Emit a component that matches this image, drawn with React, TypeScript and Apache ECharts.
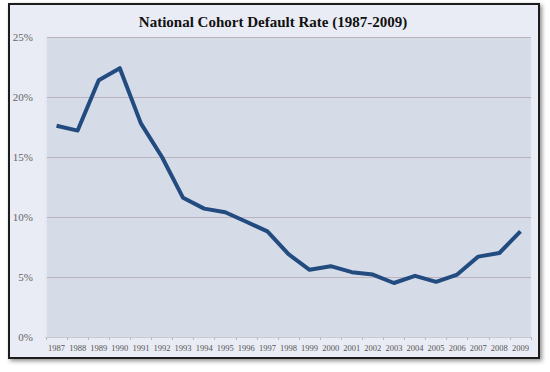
import React, { useEffect, useRef } from "react";
import * as echarts from "echarts";

const titleText = "National Cohort Default Rate (1987-2009)";
const years = ["1987","1988","1989","1990","1991","1992","1993","1994","1995","1996","1997","1998","1999","2000","2001","2002","2003","2004","2005","2006","2007","2008","2009"];
const rates = [17.6,17.2,21.4,22.4,17.8,15.0,11.6,10.7,10.4,9.6,8.8,6.9,5.6,5.9,5.4,5.2,4.5,5.1,4.6,5.2,6.7,7.0,8.8];
const yTicks = [0, 5, 10, 15, 20, 25];

const serif = "'Liberation Serif', 'Times New Roman', serif";

export default function App() {
  const ref = useRef<HTMLDivElement>(null);
  useEffect(() => {
    if (!ref.current) return;
    const chart = echarts.init(ref.current, null, { renderer: "svg" });
    chart.setOption({
      animation: false,
      backgroundColor: "#ffffff",
      textStyle: { fontFamily: serif },
      title: {
        text: titleText,
        left: 268,
        top: 9,
        textAlign: "center",
        textStyle: {
          fontFamily: serif,
          fontWeight: "bold",
          fontSize: 15,
          color: "#111111",
        },
      },
      graphic: [
        {
          type: "rect",
          z: -10,
          shape: { x: 9, y: 4, width: 530, height: 354 },
          style: {
            fill: "#e9ecf4",
            stroke: "#1e1e1e",
            lineWidth: 2,
            shadowBlur: 4,
            shadowOffsetX: 2,
            shadowOffsetY: 2,
            shadowColor: "rgba(0,0,0,0.45)",
          },
        },
      ],
      grid: {
        left: 46,
        right: 19,
        top: 37,
        bottom: 35,
        show: true,
        backgroundColor: "#d5dbe7",
        borderWidth: 0,
      },
      xAxis: {
        type: "category",
        data: years,
        boundaryGap: true,
        axisLine: { show: true, lineStyle: { color: "#c3c8d2", width: 1 } },
        axisTick: { show: true, length: 3, lineStyle: { color: "#b5bac4" } },
        axisLabel: {
          interval: 0,
          fontFamily: serif,
          fontSize: 8.5,
          color: "#555555",
          margin: 6,
        },
      },
      yAxis: {
        type: "value",
        min: yTicks[0],
        max: yTicks[yTicks.length - 1],
        interval: 5,
        axisLine: { show: true, lineStyle: { color: "#e4e8f0", width: 2 } },
        axisTick: { show: false },
        splitLine: { show: true, lineStyle: { color: "#bcb2bd", width: 1 } },
        axisLabel: {
          formatter: (v: number) => v + "%",
          fontFamily: serif,
          fontSize: 11,
          color: "#666666",
          margin: 13,
        },
      },
      series: [
        {
          type: "line",
          data: rates,
          symbol: "none",
          lineStyle: { color: "#224b80", width: 4, join: "round" },
        },
      ],
    });
    return () => chart.dispose();
  }, []);
  return (
    <div
      ref={ref}
      style={{ position: "fixed", left: 0, top: 0, width: 550, height: 372 }}
    />
  );
}
